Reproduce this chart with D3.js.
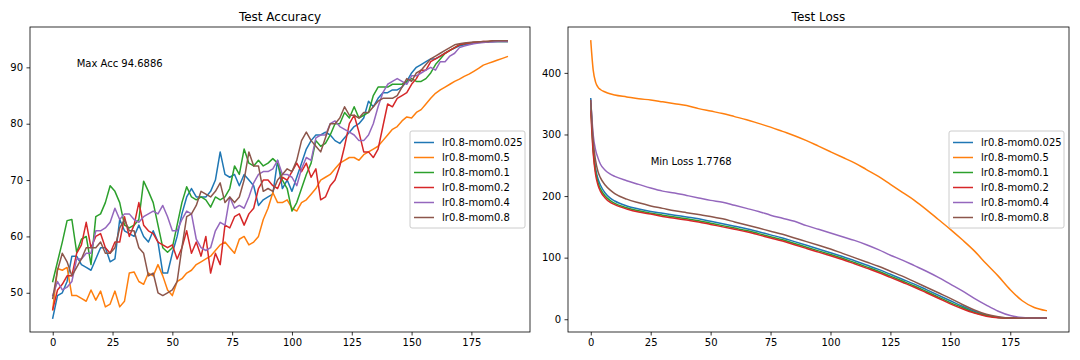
<!DOCTYPE html>
<head>
  <meta charset="utf-8">
  <script src="https://d3js.org/d3.v7.min.js"></script>
  <style>
    body { margin: 0; background: #fff; }
    text { font-family: "DejaVu Sans", sans-serif; fill: #000; }
    .tick text { font-size: 10px; }
    .tick line { stroke: #000; stroke-width: 0.8; }
    .domain { display: none; }
  </style>
</head>
<body>
  <div id="graph"></div>
  <script>
    // series names, in legend order
    var names = ["lr0.8-mom0.025", "lr0.8-mom0.5", "lr0.8-mom0.1", "lr0.8-mom0.2", "lr0.8-mom0.4", "lr0.8-mom0.8"];
    var colors = ["#1f77b4", "#ff7f0e", "#2ca02c", "#d62728", "#9467bd", "#8c564b"];

    var xTicks = [0, 25, 50, 75, 100, 125, 150, 175];
    var accTicks = [50, 60, 70, 80, 90];
    var lossTicks = [0, 100, 200, 300, 400];

    // accuracy is read every 2 epochs: 0, 2, ..., 190
    var accEpochStep = 2;
    var acc0025 = [45.5, 49.5, 50, 52, 56.5, 56.5, 55, 54.5, 54, 56, 58, 58, 55.5, 56, 63, 61, 60.5, 60, 62, 60,
      59, 61, 59, 53.5, 53.5, 57, 60, 64, 67, 68.5, 67, 67, 67, 68, 70, 75, 71, 70.5, 71, 69,
      71, 70, 69, 65.5, 66.5, 67, 67.5, 73.5, 68.5, 70, 68, 70.5, 73, 75.5, 77, 78, 78, 78.5, 78, 77,
      76.5, 77.5, 78.5, 79.5, 80, 81, 84, 83, 84.5, 85.5, 85.5, 86, 86, 86.5, 87.5, 89, 90, 90.5, 91, 91.5,
      91.5, 92, 92.5, 93, 93.4, 93.8, 94, 94.1, 94.3, 94.4, 94.5, 94.5, 94.6, 94.6, 94.6, 94.6];
    var acc05 = [47, 54.3, 54, 54.5, 49.5, 49.5, 49, 48.5, 50.5, 48.7, 50.3, 47.5, 48, 50.3, 47.5, 48.5, 53.5, 53.7, 52, 51.5,
      53.5, 53, 55, 53, 50.5, 49.5, 52, 52.5, 53.5, 54, 55, 55.5, 56, 56.5, 57.5, 58.5, 59, 58, 57, 59.5,
      60, 58.5, 59, 60, 63, 65, 67.8, 66, 66, 66.5, 65, 64.5, 66, 66.5, 67.5, 68.5, 70, 70.5, 71, 72,
      73, 73.5, 74, 74, 73.5, 74.5, 75, 75.5, 76, 77, 78, 79, 79.5, 80.5, 81.2, 81, 82, 82.5, 83.5, 84.5,
      85.4, 86, 86.5, 87, 87.5, 87.9, 88.4, 88.8, 89.3, 89.8, 90.4, 90.7, 91, 91.3, 91.6, 91.9];
    var acc01 = [52, 55.5, 59, 62.8, 63, 57.2, 59.5, 60, 55, 63.5, 64, 66, 69, 68, 66, 62, 61.5, 62, 63, 69.8,
      68, 66, 62, 58, 57.2, 58, 62, 66, 68.8, 67, 66.5, 67, 66.5, 65.2, 67, 66.5, 67, 68.5, 72.5, 71,
      75.5, 73, 72.5, 73.5, 72.5, 73, 73.8, 73, 70, 68.5, 64.5, 66, 68.5, 71, 73, 77, 76, 76.5, 78, 80,
      80, 82, 81, 83, 81, 81.5, 82, 85, 86.5, 86.5, 86.5, 87, 87, 87, 87.5, 88, 87.5, 87.5, 88, 89,
      90.5, 91.5, 92.5, 93, 93.5, 94, 94.2, 94.3, 94.4, 94.5, 94.5, 94.6, 94.6, 94.6, 94.6, 94.6];
    var acc02 = [47, 50.5, 51.5, 53, 53, 57, 58.5, 62.5, 58, 60, 60.5, 58, 57, 59, 59, 63.5, 60, 62, 66, 62,
      61, 60.5, 59, 58.5, 58, 58.5, 56, 58, 61, 57, 59, 56.5, 60, 53.5, 57, 55, 62, 61.5, 63.5, 64,
      62, 64, 65, 68.5, 70, 70, 69, 68.5, 70.5, 70, 71.5, 73, 71.5, 73, 70.5, 72, 66.5, 67, 69, 70,
      72.5, 76, 80, 81.5, 78.5, 75, 75, 74, 75.5, 79.5, 83.5, 83, 84.5, 85, 85.5, 87, 88, 89.5, 89.5, 91,
      91.5, 92, 92.5, 93, 93.5, 94, 94.2, 94.3, 94.4, 94.5, 94.6, 94.6, 94.7, 94.7, 94.7, 94.7];
    var acc04 = [49.5, 52, 50.5, 51, 52, 56, 56, 57, 57, 61, 61, 61.5, 62.5, 65, 63, 64, 64, 63, 62.5, 63.5,
      64, 64.5, 64, 65.5, 63.5, 61, 61, 63, 64.5, 64, 59.5, 58, 57.5, 58, 61, 62.5, 62, 67, 65, 65.5,
      65, 67, 69.5, 71, 71.5, 71.5, 72, 73.5, 71, 71, 70.5, 69, 72, 74, 73.5, 77.5, 78, 78, 80, 80.5,
      79.5, 79, 78.5, 78, 77, 77, 78, 80, 83, 85.5, 87, 87.5, 88, 87.5, 87, 88.5, 88.5, 89, 89.5, 90,
      89.5, 91, 91, 92, 92.5, 93.5, 93.8, 94, 94.2, 94.3, 94.4, 94.5, 94.5, 94.6, 94.6, 94.6];
    var acc08 = [49, 54, 57, 55.5, 53, 54.5, 56, 58, 58, 58, 59, 57, 57, 58, 61.5, 63, 61, 61, 58, 57,
      53, 53.5, 50, 49.5, 50, 50.5, 52, 58, 63.5, 64, 65.5, 68, 67.5, 67, 68, 69.5, 66, 67, 66, 67,
      70, 75, 72.5, 72.5, 68, 68.5, 68, 70, 71, 72, 71.5, 73.5, 77, 78.5, 77, 76, 75, 77.5, 80, 80,
      81, 83, 81.5, 81.5, 81, 82, 82, 83, 84, 84.5, 84.5, 84.5, 85, 86.5, 88, 87.5, 89, 89.5, 90.5, 91.5,
      92, 92.5, 93, 93.5, 94, 94.2, 94.3, 94.4, 94.5, 94.5, 94.6, 94.6, 94.7, 94.7, 94.7, 94.7];

    // loss is smooth, read at these epochs
    var lossEpochs = [0, 1, 2, 3, 4, 6, 8, 10, 15, 20, 25, 30, 35, 40, 45, 50, 55, 60, 65, 70, 75, 80,
      85, 90, 95, 100, 105, 110, 115, 120, 125, 130, 135, 140, 145, 150, 155, 160, 165, 170, 175, 180, 185, 190];
    var loss0025 = [358, 280, 245, 228, 218, 205, 197, 192, 184, 179, 175, 172, 169, 166, 163, 159, 155, 151, 147, 142, 137, 132,
      126, 120, 114, 108, 102, 95, 88, 81, 73, 65, 57, 48, 39, 30, 21, 13, 7, 3, 2, 2, 2, 2];
    var loss05 = [452, 405, 385, 377, 373, 369, 366, 364, 361, 358, 356, 353, 350, 347, 342, 338, 334, 329, 324, 318, 312, 305,
      298, 290, 281, 272, 263, 254, 243, 232, 219, 206, 193, 178, 162, 146, 129, 111, 90, 70, 48, 30, 19, 14];
    var loss01 = [350, 275, 240, 222, 212, 200, 193, 188, 181, 176, 172, 169, 166, 163, 160, 156, 152, 148, 144, 139, 134, 129,
      123, 117, 111, 105, 99, 92, 85, 78, 70, 62, 54, 45, 36, 27, 19, 11, 6, 3, 2, 2, 2, 2];
    var loss02 = [338, 270, 235, 218, 208, 197, 190, 186, 179, 174, 171, 167, 164, 161, 158, 154, 150, 146, 142, 137, 132, 127,
      121, 115, 109, 103, 97, 90, 83, 76, 68, 60, 52, 43, 34, 25, 17, 10, 5, 2.5, 2, 2, 1.9, 1.8];
    var loss04 = [355, 300, 275, 262, 252, 242, 236, 232, 225, 219, 213, 208, 205, 201, 197, 193, 190, 185, 180, 175, 169, 164,
      159, 152, 146, 140, 134, 128, 121, 113, 104, 96, 87, 78, 68, 57, 46, 34, 23, 13, 6, 3, 2, 2];
    var loss08 = [355, 290, 258, 240, 230, 218, 210, 204, 195, 189, 184, 180, 176, 173, 170, 167, 163, 158, 153, 148, 143, 138,
      132, 126, 120, 114, 107, 100, 93, 86, 78, 70, 61, 52, 43, 34, 24, 15, 8, 4, 2, 2, 2, 2];

    var accSeries = [acc0025, acc05, acc01, acc02, acc04, acc08];
    var lossSeries = [loss0025, loss05, loss01, loss02, loss04, loss08];

    var width = 1080;
    var height = 360;
    var svg = d3.select("#graph").append("svg")
      .attr("width", width)
      .attr("height", height);

    // matplotlib style: 5% margin around the data
    function padded(values) {
      var ext = d3.extent(values);
      var m = (ext[1] - ext[0]) * 0.05;
      return [ext[0] - m, ext[1] + m];
    }

    function panel(opts) {
      var left = opts.left, right = opts.right, top = 27, bottom = 332;
      var x = d3.scaleLinear().domain(padded([0, 190])).range([left, right]);
      var y = d3.scaleLinear().domain(padded(d3.merge(opts.series))).range([bottom, top]);

      var g = svg.append("g");
      var clipId = "clip" + opts.id;
      g.append("clipPath").attr("id", clipId)
        .append("rect")
        .attr("x", left).attr("y", top)
        .attr("width", right - left).attr("height", bottom - top);

      var line = d3.line()
        .x(d => x(d[0]))
        .y(d => y(d[1]))
        .curve(opts.curve);

      opts.series.forEach(function (vals, i) {
        var pts = vals.map((v, j) => [opts.xs(j), v]);
        g.append("path")
          .attr("clip-path", "url(#" + clipId + ")")
          .attr("d", line(pts))
          .attr("fill", "none")
          .attr("stroke", colors[i])
          .attr("stroke-width", 1.5)
          .attr("stroke-linejoin", "round")
          .attr("stroke-linecap", "square");
      });

      var xAxis = d3.axisBottom(x).tickValues(xTicks).tickSize(3.5).tickPadding(3.5)
        .tickFormat(d3.format("d"));
      g.append("g")
        .attr("transform", "translate(0," + bottom + ")")
        .call(xAxis);

      var yAxis = d3.axisLeft(y).tickValues(opts.ticks).tickSize(3.5).tickPadding(3.5)
        .tickFormat(d3.format("d"));
      g.append("g")
        .attr("transform", "translate(" + left + ",0)")
        .call(yAxis);

      // spines
      g.append("rect")
        .attr("x", left).attr("y", top)
        .attr("width", right - left).attr("height", bottom - top)
        .attr("fill", "none")
        .attr("stroke", "#000")
        .attr("stroke-width", 0.8);

      g.append("text")
        .attr("x", (left + right) / 2)
        .attr("y", top - 6)
        .attr("text-anchor", "middle")
        .style("font-size", "12px")
        .text(opts.title);

      g.append("text")
        .attr("x", x(opts.note[0]))
        .attr("y", y(opts.note[1]))
        .style("font-size", "10px")
        .text(opts.note[2]);

      // legend, center right
      var lw = 115, lh = 97;
      var lx = right - 5 - lw;
      var ly = (top + bottom) / 2 - lh / 2;
      var leg = g.append("g");
      leg.append("rect")
        .attr("x", lx).attr("y", ly)
        .attr("width", lw).attr("height", lh)
        .attr("rx", 2)
        .attr("fill", "#fff")
        .attr("fill-opacity", 0.8)
        .attr("stroke", "#cccccc")
        .attr("stroke-width", 1);
      names.forEach(function (n, i) {
        var cy = ly + 11.5 + i * 15;
        leg.append("line")
          .attr("x1", lx + 4).attr("x2", lx + 24)
          .attr("y1", cy).attr("y2", cy)
          .attr("stroke", colors[i])
          .attr("stroke-width", 1.5);
        leg.append("text")
          .attr("x", lx + 32)
          .attr("y", cy + 3.5)
          .style("font-size", "10px")
          .text(n);
      });
    }

    panel({
      id: "acc", left: 30, right: 530, title: "Test Accuracy",
      series: accSeries, ticks: accTicks, curve: d3.curveLinear,
      xs: j => j * accEpochStep,
      note: [10, 90, "Max Acc 94.6886"]
    });

    panel({
      id: "loss", left: 568, right: 1069, title: "Test Loss",
      series: lossSeries, ticks: lossTicks, curve: d3.curveMonotoneX,
      xs: j => lossEpochs[j],
      note: [25, 250, "Min Loss 1.7768"]
    });
  </script>
</body>
